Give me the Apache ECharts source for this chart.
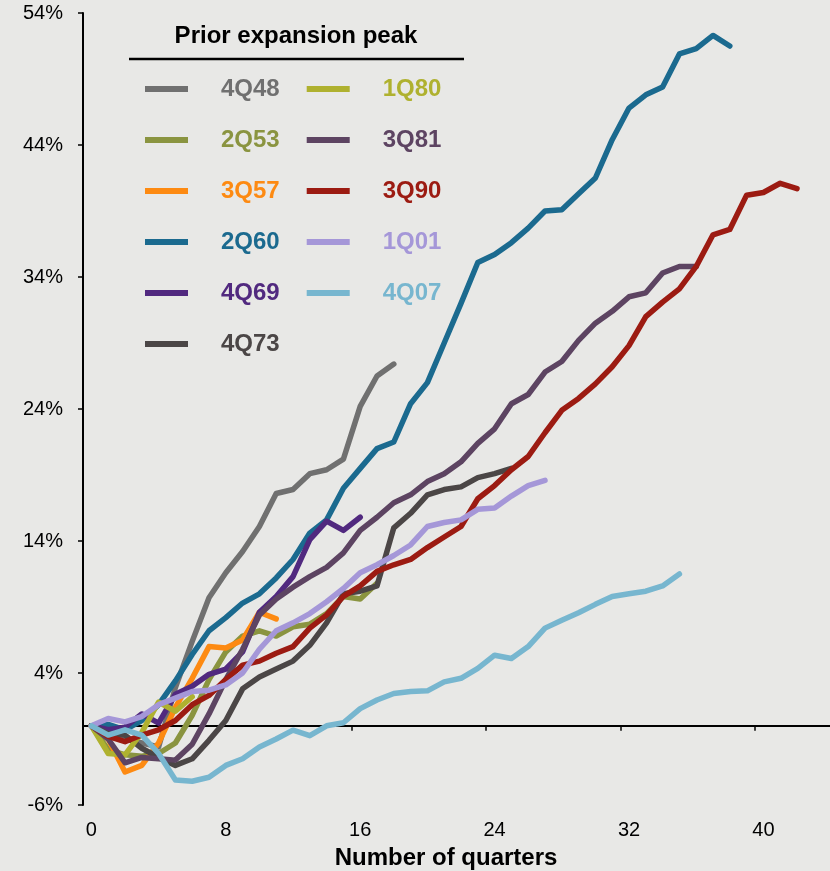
<!DOCTYPE html>
<html>
<head>
<meta charset="utf-8">
<title>Prior expansion peak</title>
<script src="https://cdn.jsdelivr.net/npm/echarts@6/dist/echarts.min.js"></script>
<style>
html, body { margin: 0; padding: 0; background: #e8e8e6; }
#chart { width: 830px; height: 871px; }
</style>
</head>
<body>
<div id="chart"></div>
<script>
// quarters since the prior expansion peak
var quarters = ['0', '1', '2', '3', '4', '5', '6', '7', '8', '9', '10', '11', '12', '13', '14',
  '15', '16', '17', '18', '19', '20', '21', '22', '23', '24', '25', '26', '27', '28', '29',
  '30', '31', '32', '33', '34', '35', '36', '37', '38', '39', '40', '41', '42', '43', '44']

// cumulative % change, one array per prior peak
var s4Q48 = [0, -0.4, -1.0, -1.3, -1.6, 2.9, 6.4, 9.7, 11.6, 13.2, 15.1, 17.6, 17.9, 19.1, 19.4, 20.2, 24.2, 26.5, 27.4]
var s2Q53 = [0, -1.8, -2.2, -2.3, -2.1, -1.3, 0.8, 3.5, 5.6, 6.8, 7.2, 6.8, 7.5, 7.7, 8.5, 9.8, 9.6, 10.8]
var s3Q57 = [0, -1.0, -3.5, -3.0, -1.3, 1.4, 3.6, 6.0, 5.9, 6.5, 8.6, 8.1]
var s2Q60 = [0, 0.1, -0.3, 0.4, 1.6, 3.4, 5.4, 7.2, 8.2, 9.3, 10.0, 11.2, 12.6, 14.6, 15.6, 18.0, 19.5, 21.0, 21.5,
  24.4, 26.0, 29.0, 32.0, 35.1, 35.7, 36.6, 37.7, 39.0, 39.1, 40.3, 41.5, 44.4, 46.8, 47.8, 48.4, 50.9, 51.3, 52.3, 51.5]
var s4Q69 = [0, -0.3, -0.1, 0.9, 0.2, 2.4, 3.0, 3.9, 4.3, 5.6, 8.6, 9.8, 11.3, 14.1, 15.5, 14.8, 15.8]
var s4Q73 = [0, -0.6, -0.7, -1.7, -2.4, -3.0, -2.5, -1.1, 0.4, 2.8, 3.7, 4.3, 4.9, 6.1, 7.8, 10.0, 10.2, 10.6, 15.0,
  16.1, 17.5, 17.9, 18.1, 18.8, 19.1, 19.5]
var s1Q80 = [0, -2.1, -2.2, -0.5, 1.8, 1.1, 2.2]
var s3Q81 = [0, -1.0, -2.8, -2.4, -2.5, -2.6, -1.4, 0.9, 3.5, 5.8, 8.4, 9.6, 10.5, 11.3, 12.0, 13.1, 14.8, 15.8, 16.9,
  17.5, 18.5, 19.1, 20.0, 21.4, 22.5, 24.4, 25.1, 26.8, 27.6, 29.2, 30.5, 31.4, 32.5, 32.8, 34.3, 34.8, 34.8]
var s3Q90 = [0, -0.8, -1.2, -0.7, -0.3, 0.4, 1.6, 2.3, 3.5, 4.6, 4.9, 5.5, 6.0, 7.4, 8.4, 9.8, 10.6, 11.7, 12.2,
  12.6, 13.5, 14.3, 15.1, 17.2, 18.2, 19.4, 20.4, 22.2, 23.9, 24.8, 25.9, 27.2, 28.8, 31.0, 32.1, 33.1, 34.8,
  37.2, 37.6, 40.2, 40.4, 41.1, 40.7]
var s1Q01 = [0, 0.55, 0.3, 0.7, 1.6, 2.1, 2.6, 2.7, 3.1, 4.0, 5.8, 7.2, 7.8, 8.5, 9.4, 10.4, 11.6, 12.2, 12.9,
  13.7, 15.1, 15.4, 15.6, 16.4, 16.5, 17.4, 18.2, 18.6]
var s4Q07 = [0, -0.7, -0.3, -0.7, -2.1, -4.1, -4.2, -3.9, -3.0, -2.5, -1.6, -1.0, -0.33, -0.75, 0, 0.23, 1.3, 1.95,
  2.45, 2.6, 2.65, 3.33, 3.6, 4.35, 5.35, 5.1, 6.0, 7.4, 8.0, 8.56, 9.2, 9.8, 10.0, 10.2, 10.6, 11.5]

var peaks = ['4Q48', '2Q53', '3Q57', '2Q60', '4Q69', '4Q73', '1Q80', '3Q81', '3Q90', '1Q01', '4Q07']
var values = [s4Q48, s2Q53, s3Q57, s2Q60, s4Q69, s4Q73, s1Q80, s3Q81, s3Q90, s1Q01, s4Q07]
var colors = ['#707070', '#8a9440', '#fd8a12', '#1b6a8f', '#51297f', '#4b4646',
  '#afb12f', '#5d4462', '#9c1b12', '#a597d8', '#77b6cf']

var chart = echarts.init(document.getElementById('chart'))

var series = peaks.map(function(name, i) {
  return {
    name: name,
    type: 'line',
    data: values[i],
    symbol: 'none',
    silent: true,
    lineStyle: { width: 5.5, color: colors[i], cap: 'round', join: 'round' },
    itemStyle: { color: colors[i] },
    emphasis: { disabled: true }
  }
})

var option = {
  backgroundColor: '#e8e8e6',
  animation: false,
  textStyle: { fontFamily: 'Liberation Sans, Arial, sans-serif' },
  title: {
    text: 'Prior expansion peak',
    left: 296,
    top: 24,
    textAlign: 'center',
    padding: 0,
    textStyle: { fontSize: 24, fontWeight: 'bold', color: '#000' }
  },
  graphic: [{
    type: 'line',
    shape: { x1: 129, y1: 59, x2: 464, y2: 59 },
    style: { stroke: '#000', lineWidth: 2.5 }
  }],
  legend: {
    orient: 'vertical',
    left: 145,
    top: 77,
    height: 280,
    padding: 0,
    itemGap: 27,
    itemWidth: 43,
    itemHeight: 6,
    icon: 'rect',
    selectedMode: false,
    itemStyle: { borderWidth: 0 },
    textStyle: { fontSize: 24, fontWeight: 'bold', lineHeight: 24, padding: [0, 0, 0, 28] },
    data: peaks.map(function(name, i) {
      return { name: name, textStyle: { color: colors[i] } }
    })
  },
  grid: { left: 83, right: -9, top: 13, bottom: 66, outerBoundsMode: 'none' },
  xAxis: [
    {
      type: 'category',
      data: quarters,
      position: 'bottom',
      axisLine: { show: false, onZero: false },
      axisTick: { show: false },
      axisLabel: { interval: 7, fontSize: 20, color: '#000', margin: 15 },
      splitLine: { show: false },
      name: 'Number of quarters',
      nameLocation: 'middle',
      nameGap: 41,
      nameTextStyle: { fontSize: 24, fontWeight: 'bold', color: '#000', padding: [0, 30, 0, 0] }
    },
    {
      // axis line drawn along 0%
      type: 'category',
      data: quarters,
      position: 'bottom',
      axisLine: { show: true, onZero: true, lineStyle: { color: '#000', width: 2 } },
      axisTick: { show: true, interval: 7, length: 5, lineStyle: { color: '#000', width: 1.5 } },
      axisLabel: { show: false },
      splitLine: { show: false }
    }
  ],
  yAxis: {
    type: 'value',
    min: -6,
    max: 54,
    interval: 10,
    axisLine: { show: true, onZero: false, lineStyle: { color: '#000', width: 2 } },
    axisTick: { show: true, length: 5, lineStyle: { color: '#000', width: 1.5 } },
    axisLabel: { formatter: '{value}%', fontSize: 20, color: '#000', margin: 20 },
    splitLine: { show: false }
  },
  series: series
}

chart.setOption(option)
</script>
</body>
</html>
